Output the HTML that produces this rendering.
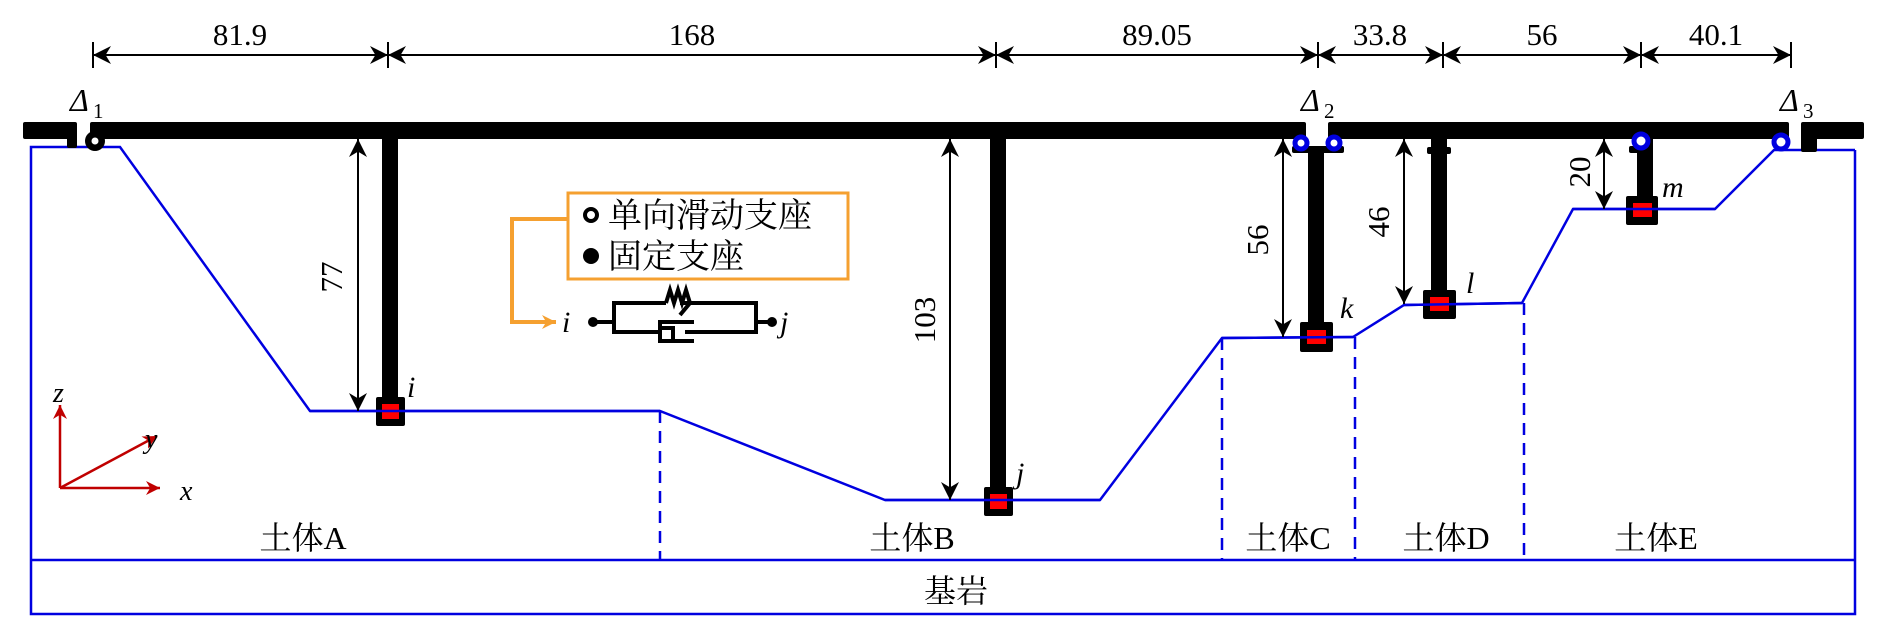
<!DOCTYPE html>
<html><head><meta charset="utf-8"><style>body{margin:0;background:#fff}svg{display:block}</style></head>
<body>
<svg width="1882" height="631" viewBox="0 0 1882 631" xmlns="http://www.w3.org/2000/svg" font-family="Liberation Serif, Noto Serif CJK SC, serif">
<defs>
<marker id="r" viewBox="0 0 10 10" refX="10" refY="5" markerWidth="14" markerHeight="14" orient="auto" markerUnits="userSpaceOnUse"><path d="M0,0 L10,5 L0,10 L3,5z" fill="#c00000"/></marker>
<marker id="o" viewBox="0 0 10 10" refX="10" refY="5" markerWidth="14" markerHeight="14" orient="auto" markerUnits="userSpaceOnUse"><path d="M0,0 L10,5 L0,10 L3,5z" fill="#f5a030"/></marker>
<marker id="b" viewBox="0 0 10 10" refX="10" refY="5" markerWidth="18" markerHeight="18" orient="auto-start-reverse" markerUnits="userSpaceOnUse"><path d="M0,0 L10,5 L0,10 L3,5z" fill="#000"/></marker>
</defs>
<g stroke="#000" stroke-width="2">
<line x1="93" y1="42" x2="93" y2="68"/><line x1="388" y1="42" x2="388" y2="68"/><line x1="996" y1="42" x2="996" y2="68"/><line x1="1318" y1="42" x2="1318" y2="68"/><line x1="1443" y1="42" x2="1443" y2="68"/><line x1="1641" y1="42" x2="1641" y2="68"/><line x1="1791" y1="42" x2="1791" y2="68"/>
<line x1="93" y1="55" x2="388" y2="55" marker-start="url(#b)" marker-end="url(#b)"/>
<line x1="388" y1="55" x2="996" y2="55" marker-start="url(#b)" marker-end="url(#b)"/>
<line x1="996" y1="55" x2="1318" y2="55" marker-start="url(#b)" marker-end="url(#b)"/>
<line x1="1318" y1="55" x2="1443" y2="55" marker-start="url(#b)" marker-end="url(#b)"/>
<line x1="1443" y1="55" x2="1641" y2="55" marker-start="url(#b)" marker-end="url(#b)"/>
<line x1="1641" y1="55" x2="1791" y2="55" marker-start="url(#b)" marker-end="url(#b)"/>
</g>
<g font-size="31" text-anchor="middle">
<text x="240" y="45">81.9</text><text x="692" y="45">168</text><text x="1157" y="45">89.05</text><text x="1380" y="45">33.8</text><text x="1542" y="45">56</text><text x="1716" y="45">40.1</text>
</g>
<g fill="none" stroke="#0000e0" stroke-width="2.5">
<polyline points="1855,150 1774,150 1715,209 1573,209 1522,303 1404,305 1353,337 1222,338 1100,500 885,500 660,411 310,411 120,147 31,147 31,614 1855,614 1855,150"/>
<line x1="31" y1="560" x2="1855" y2="560"/>
<g stroke-dasharray="12,8"><line x1="660" y1="411" x2="660" y2="560"/><line x1="1222" y1="338" x2="1222" y2="560"/><line x1="1355" y1="337" x2="1355" y2="560"/><line x1="1524" y1="303" x2="1524" y2="560"/></g>
</g>
<g fill="#000">
<rect x="23" y="122" width="54" height="17" rx="2"/><rect x="67" y="130" width="10" height="18" rx="2"/>
<rect x="90" y="122" width="1216" height="17" rx="2"/>
<rect x="1328" y="122" width="461" height="17" rx="2"/>
<rect x="1801" y="122" width="63" height="17" rx="2"/><rect x="1801" y="130" width="16" height="22" rx="2"/>
<circle cx="95" cy="141" r="10"/>
<rect x="382" y="139" width="16" height="265"/><rect x="376" y="397" width="29" height="29" rx="2"/>
<rect x="990" y="139" width="16" height="355"/><rect x="984" y="487" width="29" height="29" rx="2"/>
<rect x="1292" y="146" width="52" height="7" rx="2"/><rect x="1308" y="150" width="16" height="176"/><rect x="1300" y="322" width="33" height="30" rx="2"/>
<rect x="1431" y="139" width="16" height="156"/><rect x="1427" y="147" width="24" height="7" rx="2"/><rect x="1423" y="290" width="33" height="29" rx="2"/>
<rect x="1637" y="139" width="16" height="60"/><rect x="1629" y="146" width="24" height="7" rx="2"/><rect x="1626" y="196" width="32" height="29" rx="2"/>
</g>
<g fill="#f00"><rect x="382" y="404" width="17" height="15"/><rect x="990" y="494" width="17" height="15"/><rect x="1307" y="330" width="19" height="14"/><rect x="1430" y="297" width="19" height="14"/><rect x="1633" y="203" width="19" height="14"/></g>
<g stroke="#0000e0" stroke-width="2.5"><line x1="310" y1="411" x2="660" y2="411"/><line x1="885" y1="500" x2="1100" y2="500"/><line x1="1222" y1="338" x2="1353" y2="337"/><line x1="1404" y1="305" x2="1522" y2="303"/><line x1="1573" y1="209" x2="1715" y2="209"/></g>
<circle cx="95" cy="141" r="3.5" fill="#fff"/>
<g fill="#fff" stroke="#0000e0" stroke-width="5">
<circle cx="1301" cy="143" r="6"/><circle cx="1334" cy="143" r="6"/><circle cx="1641" cy="141" r="7"/><circle cx="1781" cy="142" r="7"/>
</g>
<g font-style="italic" font-size="32"><text x="70" y="111">Δ</text><text x="1301" y="111">Δ</text><text x="1780" y="111">Δ</text></g>
<g font-size="21"><text x="93" y="118">1</text><text x="1324" y="118">2</text><text x="1803" y="118">3</text></g>
<g stroke="#000" stroke-width="2">
<line x1="358" y1="139" x2="358" y2="411" marker-start="url(#b)" marker-end="url(#b)"/>
<line x1="950" y1="139" x2="950" y2="500" marker-start="url(#b)" marker-end="url(#b)"/>
<line x1="1283" y1="139" x2="1283" y2="337" marker-start="url(#b)" marker-end="url(#b)"/>
<line x1="1404" y1="139" x2="1404" y2="304" marker-start="url(#b)" marker-end="url(#b)"/>
<line x1="1604" y1="139" x2="1604" y2="209" marker-start="url(#b)" marker-end="url(#b)"/>
</g>
<g font-size="31" text-anchor="middle">
<text transform="translate(342,277) rotate(-90)">77</text>
<text transform="translate(935,320) rotate(-90)">103</text>
<text transform="translate(1268,240) rotate(-90)">56</text>
<text transform="translate(1389,222) rotate(-90)">46</text>
<text transform="translate(1590,172) rotate(-90)">20</text>
</g>
<g font-style="italic" font-size="30"><text x="407" y="397">i</text><text x="1016" y="483">j</text><text x="1340" y="318">k</text><text x="1466" y="293">l</text><text x="1662" y="197">m</text></g>
<rect x="568" y="193" width="280" height="86" fill="none" stroke="#f5a030" stroke-width="3"/>
<polyline points="568,219 512,219 512,322 556,322" fill="none" stroke="#f5a030" stroke-width="4" marker-end="url(#o)"/>
<circle cx="591" cy="215" r="6" fill="none" stroke="#000" stroke-width="4"/>
<circle cx="591" cy="256" r="8" fill="#000"/>
<g font-size="34"><text x="608" y="227">单向滑动支座</text><text x="608" y="268">固定支座</text></g>
<text x="562" y="332" font-style="italic" font-size="30">i</text>
<text x="780" y="332" font-style="italic" font-size="30">j</text>
<g stroke="#000" stroke-width="4" fill="none">
<line x1="593" y1="322" x2="614" y2="322"/>
<polyline points="666,303 614,303 614,332 660,332"/>
<polyline points="680,303 756,303 756,332 685,332"/>
<polyline points="666,303 670,290 674,303 678,290 682,303 686,290 690,303 680,315"/>
<polyline points="694,322 660,322 660,341 694,341"/>
<rect x="660" y="328" width="13" height="13"/>
<line x1="756" y1="322" x2="772" y2="322"/>
</g>
<circle cx="593" cy="322" r="5" fill="#000"/><circle cx="772" cy="322" r="5" fill="#000"/>
<g stroke="#c00000" stroke-width="2.5">
<line x1="60" y1="488" x2="60" y2="405" marker-end="url(#r)"/>
<line x1="60" y1="488" x2="160" y2="488" marker-end="url(#r)"/>
<line x1="60" y1="488" x2="157" y2="436" marker-end="url(#r)"/>
</g>
<g font-style="italic" font-size="28"><text x="53" y="402">z</text><text x="145" y="448">y</text><text x="180" y="500">x</text></g>
<g font-size="32" text-anchor="middle">
<text x="303" y="549">土体A</text><text x="912" y="549">土体B</text><text x="1288" y="549">土体C</text><text x="1446" y="549">土体D</text><text x="1656" y="549">土体E</text><text x="956" y="602">基岩</text>
</g>
</svg>
</body></html>
